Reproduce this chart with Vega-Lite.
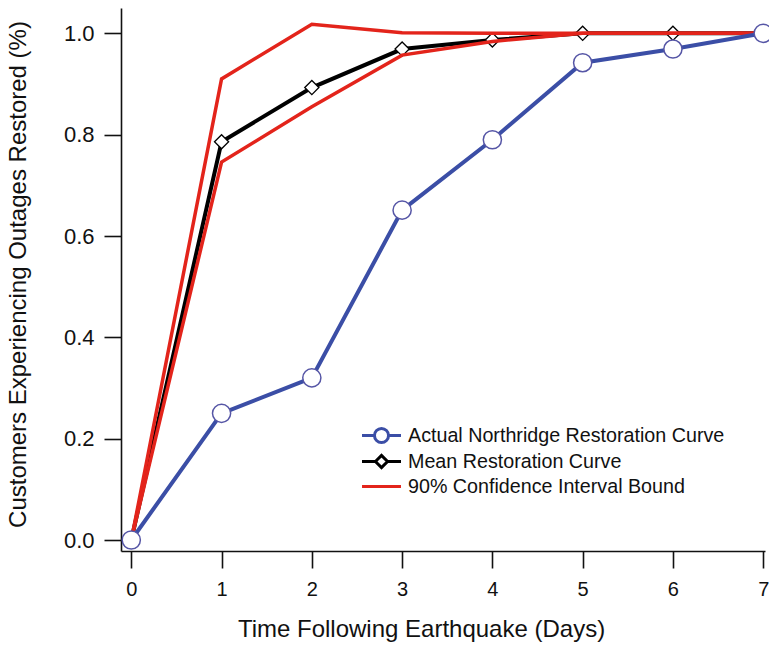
{
  "$schema": "https://vega.github.io/schema/vega-lite/v6.json",
  "width": 644,
  "height": 543,
  "autosize": {"type": "none"},
  "padding": {"left": 121, "top": 8, "right": 4, "bottom": 98},
  "background": "white",
  "config": {
    "view": {"stroke": null},
    "font": "Liberation Sans",
    "axis": {
      "domainColor": "#111", "domainWidth": 1.6, "tickColor": "#111", "tickWidth": 1.6,
      "labelFont": "Liberation Sans", "labelColor": "#111",
      "titleFont": "Liberation Sans", "titleFontWeight": "normal", "titleColor": "#111",
      "grid": false
    }
  },
  "data": {
    "values": [
      {"day": 0, "value": 0.0, "series": "Actual Northridge Restoration Curve", "bound": "a"},
      {"day": 1, "value": 0.25, "series": "Actual Northridge Restoration Curve", "bound": "a"},
      {"day": 2, "value": 0.32, "series": "Actual Northridge Restoration Curve", "bound": "a"},
      {"day": 3, "value": 0.651, "series": "Actual Northridge Restoration Curve", "bound": "a"},
      {"day": 4, "value": 0.79, "series": "Actual Northridge Restoration Curve", "bound": "a"},
      {"day": 5, "value": 0.942, "series": "Actual Northridge Restoration Curve", "bound": "a"},
      {"day": 6, "value": 0.969, "series": "Actual Northridge Restoration Curve", "bound": "a"},
      {"day": 7, "value": 1.0, "series": "Actual Northridge Restoration Curve", "bound": "a"},
      {"day": 0, "value": 0.0, "series": "Mean Restoration Curve", "bound": "m"},
      {"day": 1, "value": 0.786, "series": "Mean Restoration Curve", "bound": "m"},
      {"day": 2, "value": 0.893, "series": "Mean Restoration Curve", "bound": "m"},
      {"day": 3, "value": 0.969, "series": "Mean Restoration Curve", "bound": "m"},
      {"day": 4, "value": 0.987, "series": "Mean Restoration Curve", "bound": "m"},
      {"day": 5, "value": 1.0, "series": "Mean Restoration Curve", "bound": "m"},
      {"day": 6, "value": 1.0, "series": "Mean Restoration Curve", "bound": "m"},
      {"day": 7, "value": 1.0, "series": "Mean Restoration Curve", "bound": "m"},
      {"day": 0, "value": 0.0, "series": "90% Confidence Interval Bound", "bound": "upper"},
      {"day": 1, "value": 0.91, "series": "90% Confidence Interval Bound", "bound": "upper"},
      {"day": 2, "value": 1.018, "series": "90% Confidence Interval Bound", "bound": "upper"},
      {"day": 3, "value": 1.001, "series": "90% Confidence Interval Bound", "bound": "upper"},
      {"day": 4, "value": 1.0, "series": "90% Confidence Interval Bound", "bound": "upper"},
      {"day": 5, "value": 1.0, "series": "90% Confidence Interval Bound", "bound": "upper"},
      {"day": 6, "value": 1.0, "series": "90% Confidence Interval Bound", "bound": "upper"},
      {"day": 7, "value": 1.0, "series": "90% Confidence Interval Bound", "bound": "upper"},
      {"day": 0, "value": 0.0, "series": "90% Confidence Interval Bound", "bound": "lower"},
      {"day": 1, "value": 0.746, "series": "90% Confidence Interval Bound", "bound": "lower"},
      {"day": 2, "value": 0.855, "series": "90% Confidence Interval Bound", "bound": "lower"},
      {"day": 3, "value": 0.957, "series": "90% Confidence Interval Bound", "bound": "lower"},
      {"day": 4, "value": 0.984, "series": "90% Confidence Interval Bound", "bound": "lower"},
      {"day": 5, "value": 1.0, "series": "90% Confidence Interval Bound", "bound": "lower"},
      {"day": 6, "value": 1.0, "series": "90% Confidence Interval Bound", "bound": "lower"},
      {"day": 7, "value": 1.0, "series": "90% Confidence Interval Bound", "bound": "lower"}
    ]
  },
  "encoding": {
    "x": {
      "field": "day", "type": "quantitative",
      "scale": {"domain": [-0.114, 7.02], "nice": false, "zero": false},
      "axis": {"values": [0, 1, 2, 3, 4, 5, 6, 7], "format": "d", "tickSize": 17, "labelFontSize": 20, "labelPadding": 11, "title": "Time Following Earthquake (Days)", "titleFontSize": 24, "titlePadding": 18, "titleX": 300}
    },
    "y": {
      "field": "value", "type": "quantitative",
      "scale": {"domain": [-0.0217, 1.05], "nice": false, "zero": false},
      "axis": {"values": [0, 0.2, 0.4, 0.6, 0.8, 1.0], "format": ".1f", "tickSize": 17, "labelFontSize": 22, "labelPadding": 10, "title": "Customers Experiencing Outages Restored (%)", "titleFontSize": 24, "titlePadding": 33, "titleY": 266}
    }
  },
  "layer": [
    {
      "transform": [{"filter": "datum.series === 'Mean Restoration Curve'"}],
      "mark": {"type": "line", "strokeWidth": 4, "strokeJoin": "miter"},
      "encoding": {
        "color": {
          "field": "series", "type": "nominal",
          "scale": {
            "domain": ["Actual Northridge Restoration Curve", "Mean Restoration Curve", "90% Confidence Interval Bound"],
            "range": ["#3b4ea6", "#000000", "#e3241b"]
          },
          "legend": {
            "title": null, "orient": "none", "legendX": 248, "legendY": 415,
            "symbolType": "M-1.77,0H1.77", "symbolSize": 484, "symbolStrokeWidth": 3,
            "labelFontSize": 19.7, "labelFont": "Liberation Sans", "labelColor": "#111", "labelLimit": 500,
            "labelOffset": 14, "rowPadding": -4, "padding": 0,
            "encode": {
              "symbols": {
                "update": {
                  "shape": {"signal": "datum.value === 'Actual Northridge Restoration Curve' ? 'M-1.77,0H-0.64M0.64,0H1.77M-0.64,0A0.64,0.64 0 1,1 0.64,0A0.64,0.64 0 1,1 -0.64,0Z' : datum.value === 'Mean Restoration Curve' ? 'M-1.77,0H-0.55M0.55,0H1.77M-0.55,0L0,-0.55L0.55,0L0,0.55Z' : 'M-1.77,0H1.77'"},
                  "fill": {"value": "white"},
                  "fillOpacity": {"value": 1}
                }
              }
            }
          }
        },
        "detail": {"field": "bound"}
      }
    },
    {
      "transform": [{"filter": "datum.series === 'Mean Restoration Curve'"}],
      "mark": {"type": "point", "shape": "diamond", "filled": true, "fill": "white", "stroke": "#000", "strokeWidth": 1.3, "size": 200, "opacity": 1}
    },
    {
      "transform": [{"filter": "datum.series === '90% Confidence Interval Bound'"}],
      "mark": {"type": "line", "strokeWidth": 3.5, "strokeJoin": "miter"},
      "encoding": {
        "color": {"field": "series", "type": "nominal"},
        "detail": {"field": "bound"}
      }
    },
    {
      "transform": [{"filter": "datum.series === 'Actual Northridge Restoration Curve'"}],
      "mark": {"type": "line", "strokeWidth": 4, "strokeJoin": "miter"},
      "encoding": {
        "color": {"field": "series", "type": "nominal"},
        "detail": {"field": "bound"}
      }
    },
    {
      "transform": [{"filter": "datum.series === 'Actual Northridge Restoration Curve'"}],
      "mark": {"type": "point", "shape": "circle", "filled": true, "fill": "white", "stroke": "#5656a6", "strokeWidth": 1.5, "size": 330, "opacity": 1}
    }
  ]
}
